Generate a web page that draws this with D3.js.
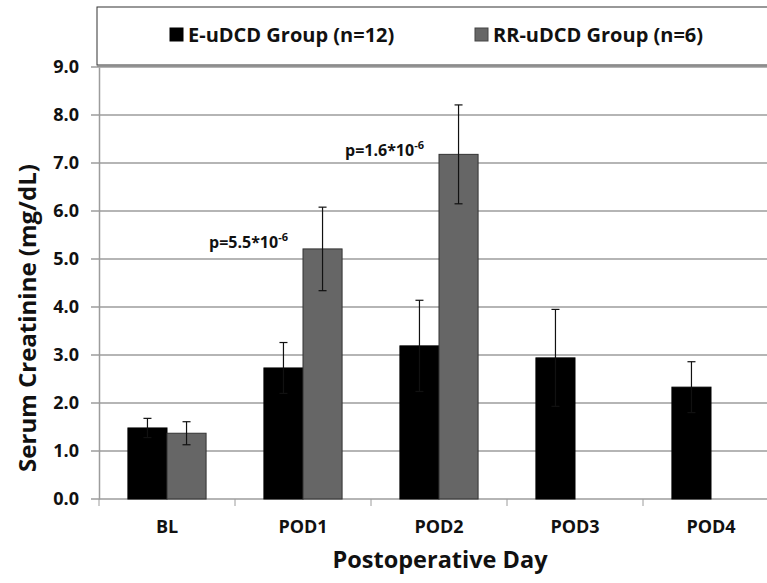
<!DOCTYPE html>
<html lang="en">
<head>
    <meta charset="UTF-8">
    <title>Serum Creatinine</title>
    <style>
        body { margin: 0; background: #fff; }
        svg text { font-family: "Open Sans", Lato, sans-serif; font-weight: bold; }
    </style>
    <script src="https://cdn.jsdelivr.net/npm/d3@7"></script>
</head>
<body>
<script>
    // values
    var days = ["BL", "POD1", "POD2", "POD3", "POD4"];
    var groups = ["E-uDCD Group (n=12)", "RR-uDCD Group (n=6)"];
    var eMean = [1.48, 2.73, 3.19, 2.94, 2.33];
    var eErr = [0.20, 0.53, 0.95, 1.01, 0.53];
    var rrMean = [1.37, 5.21, 7.18, null, null];
    var rrErr = [0.24, 0.87, 1.03, null, null];
    var yTicks = [0, 1, 2, 3, 4, 5, 6, 7, 8, 9];
    var pLabels = [
        {day: "POD1", base: "p=5.5*10", exp: "-6", at: 5.23},
        {day: "POD2", base: "p=1.6*10", exp: "-6", at: 7.15}
    ];

    var colors = {"E-uDCD Group (n=12)": "#000000", "RR-uDCD Group (n=6)": "#666666"};

    var width = 767, height = 583;
    var plotLeft = 99, plotRight = 779, plotTop = 67, plotBottom = 499;

    var svg = d3.select("body").append("svg")
        .attr("width", width)
        .attr("height", height);

    var x = d3.scaleBand().domain(days).range([plotLeft, plotRight]).paddingInner(0).paddingOuter(0);
    var xSub = d3.scaleBand().domain(groups).range([0, x.bandwidth()]).paddingInner(0).paddingOuter(0.74);
    var y = d3.scaleLinear().domain([0, 9]).range([plotBottom, plotTop]);

    // gridlines
    svg.append("g")
        .selectAll("line")
        .data(yTicks)
        .join("line")
        .attr("x1", plotLeft - 8)
        .attr("x2", width)
        .attr("y1", d => y(d))
        .attr("y2", d => y(d))
        .attr("stroke", "#9c9c9c")
        .attr("stroke-width", 1.5);

    // y axis
    var yAxis = d3.axisLeft(y).tickValues(yTicks).tickFormat(d3.format(".1f")).tickSize(0).tickPadding(20);
    var gy = svg.append("g").attr("transform", "translate(" + plotLeft + ",0)").call(yAxis);
    gy.select(".domain").attr("stroke", "#9c9c9c").attr("stroke-width", 1.5);
    gy.selectAll("text").style("font-size", "18px").attr("fill", "#111");

    // x axis
    var xAxis = d3.axisBottom(x).tickSize(0).tickPadding(0);
    var gx = svg.append("g").attr("transform", "translate(0," + plotBottom + ")").call(xAxis);
    gx.select(".domain").remove();
    gx.selectAll("text").attr("dy", null).attr("y", 34).style("font-size", "18px").attr("fill", "#111");
    gx.selectAll(".sep")
        .data(days.concat(["end"]))
        .join("line")
        .attr("x1", (d, i) => plotLeft + i * x.bandwidth())
        .attr("x2", (d, i) => plotLeft + i * x.bandwidth())
        .attr("y1", 0)
        .attr("y2", 7)
        .attr("stroke", "#9c9c9c")
        .attr("stroke-width", 1);

    // bars
    var rows = [];
    days.forEach(function(d, i) {
        rows.push({day: d, group: groups[0], v: eMean[i], e: eErr[i]});
        if (rrMean[i] != null) rows.push({day: d, group: groups[1], v: rrMean[i], e: rrErr[i]});
    });

    var bars = svg.append("g");
    bars.selectAll("rect")
        .data(rows)
        .join("rect")
        .attr("x", d => x(d.day) + xSub(d.group))
        .attr("y", d => y(d.v))
        .attr("width", xSub.bandwidth())
        .attr("height", d => y(0) - y(d.v))
        .attr("fill", d => colors[d.group])
        .attr("stroke", d => d.group === groups[0] ? "#000" : "#333")
        .attr("stroke-width", 1);

    // error bars
    var err = svg.append("g").attr("stroke", "#111").attr("stroke-width", 1.2);
    rows.forEach(function(d) {
        var cx = x(d.day) + xSub(d.group) + xSub.bandwidth() / 2;
        err.append("line").attr("x1", cx).attr("x2", cx).attr("y1", y(d.v + d.e)).attr("y2", y(d.v - d.e));
        [d.v + d.e, d.v - d.e].forEach(function(v) {
            err.append("line").attr("x1", cx - 4).attr("x2", cx + 4).attr("y1", y(v)).attr("y2", y(v));
        });
    });

    // p-value labels
    pLabels.forEach(function(p) {
        var t = svg.append("text")
            .attr("x", x(p.day) + xSub(groups[1]) - 15)
            .attr("y", y(p.at))
            .attr("text-anchor", "end")
            .style("font-size", "16px")
            .attr("fill", "#111");
        t.append("tspan").text(p.base);
        t.append("tspan").attr("dy", -7).style("font-size", "11px").text(p.exp);
    });

    // legend box
    var legend = svg.append("g");
    legend.append("rect")
        .attr("x", 97).attr("y", 7)
        .attr("width", 700).attr("height", 58)
        .attr("fill", "#fff")
        .attr("stroke", "#333")
        .attr("stroke-width", 1);
    legend.append("line")
        .attr("x1", 97).attr("x2", width).attr("y1", 66).attr("y2", 66)
        .attr("stroke", "#888").attr("stroke-width", 1.5);

    var legendX = [170, 475];
    groups.forEach(function(g, i) {
        legend.append("rect")
            .attr("x", legendX[i]).attr("y", 28)
            .attr("width", 13).attr("height", 13)
            .attr("fill", colors[g])
            .attr("stroke", i ? "#444" : "#000");
        legend.append("text")
            .attr("x", legendX[i] + 18).attr("y", 42)
            .style("font-size", "20px")
            .attr("fill", "#111")
            .text(g);
    });

    // axis titles
    svg.append("text")
        .attr("transform", "translate(36,318) rotate(-90)")
        .attr("text-anchor", "middle")
        .style("font-size", "24px")
        .attr("fill", "#111")
        .text("Serum Creatinine (mg/dL)");

    svg.append("text")
        .attr("x", 440).attr("y", 568)
        .attr("text-anchor", "middle")
        .style("font-size", "23.5px")
        .attr("fill", "#111")
        .text("Postoperative Day");
</script>
</body>
</html>
